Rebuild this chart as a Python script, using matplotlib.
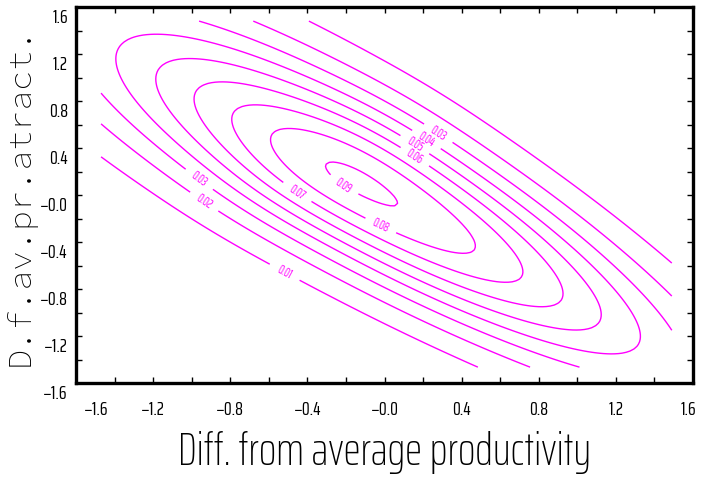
import numpy as np
import matplotlib
matplotlib.use("Agg")
import matplotlib.pyplot as plt
from matplotlib.transforms import ScaledTranslation

# ---- data ----
contour_levels = [0.01, 0.02, 0.03, 0.04, 0.05, 0.06, 0.07, 0.08, 0.09]
# surface: a broad rotated bell shape plus a small bump near its top
main_center = [-0.025, 0.0]
main_amplitude = 0.089
main_sd_major = 1.47
main_sd_minor = 0.39
minor_sd_slope = -0.05          # minor spread changes slightly along the major axis
major_axis_angle_deg = -45.0
bump_offset_major = -0.40       # bump position along the major axis
bump_amplitude = 0.004
bump_sd_major = 0.35
bump_sd_minor = 0.40
grid_x_range = [-1.47, 1.49]
grid_y_range = [-1.465, 1.48]
grid_points = 151

label_levels = [0.01, 0.02, 0.03, 0.03, 0.04, 0.05, 0.06, 0.07, 0.08, 0.09]
label_x = [-0.506, -0.926, -0.952, 0.283, 0.226, 0.163, 0.163, -0.438, -0.018, -0.21]
label_y = [-0.621, -0.034, 0.153, 0.536, 0.494, 0.443, 0.34, 0.06, -0.255, 0.085]

tick_values = [-1.6, -1.2, -0.8, -0.4, 0.0, 0.4, 0.8, 1.2, 1.6]
tick_labels = ["\u22121.6", "\u22121.2", "\u22120.8", "\u22120.4", "\u22120.0", "0.4", "0.8", "1.2", "1.6"]
minor_tick_values = [-1.4, -1.0, -0.6, -0.2, 0.2, 0.6, 1.0, 1.4]

x_label = "Diff. from average productivity"
y_label = "D.f.av.pr.atract."

# ---- build surface ----
gx = np.linspace(grid_x_range[0], grid_x_range[1], grid_points)
gy = np.linspace(grid_y_range[0], grid_y_range[1], grid_points)
X, Y = np.meshgrid(gx, gy)
th = np.deg2rad(major_axis_angle_deg)
dx, dy = X - main_center[0], Y - main_center[1]
U = dx * np.cos(th) + dy * np.sin(th)
V = -dx * np.sin(th) + dy * np.cos(th)
sv = main_sd_minor * (1 + minor_sd_slope * U)
Z = main_amplitude * np.exp(-0.5 * ((U / main_sd_major) ** 2 + (V / sv) ** 2))
Z += bump_amplitude * np.exp(-0.5 * (((U - bump_offset_major) / bump_sd_major) ** 2 + (V / bump_sd_minor) ** 2))

# ---- figure ----
fig = plt.figure(figsize=(7.05, 4.84), dpi=100)
ax = fig.add_axes([76 / 705, 1 - 383 / 484, 617 / 705, 376 / 484])
magenta = "#ff00ff"
narrow = ["Saira ExtraCondensed", "DejaVu Sans"]

ax.set_xlim(-1.6, 1.6)
ax.set_ylim(-1.6, 1.6)

all_labels = []
for lev in contour_levels:
    cs = ax.contour(X, Y, Z, levels=[lev], colors=magenta, linewidths=1.0)
    pos = [(x, y) for l, x, y in zip(label_levels, label_x, label_y) if l == lev]
    if pos:
        txts = ax.clabel(cs, manual=pos, inline=True, inline_spacing=3,
                         fontsize=9, fmt="%.2f", colors=magenta)
        for t in txts:
            t.set_family(narrow)
            all_labels.append(t)

# keep every contour label upright, in screen space
for t in all_labels:
    r = t.get_rotation()
    r = ((r + 90.0) % 180.0) - 90.0
    t.set_transform_rotates_text(False)
    t.set_rotation(r)

ax.set_xticks(tick_values)
ax.set_xticklabels(tick_labels)
ax.set_yticks(tick_values)
ax.set_yticklabels(tick_labels)
ax.set_xticks(minor_tick_values, minor=True)
ax.set_yticks(minor_tick_values, minor=True)
for which in ("major", "minor"):
    ax.tick_params(axis="both", which=which, direction="in", length=4.5, width=1.0,
                   top=True, right=True, colors="black")
ax.tick_params(axis="x", which="major", pad=13)
ax.tick_params(axis="y", which="major", pad=6)
for sp in ax.spines.values():
    sp.set_linewidth(2.4)

for lab in ax.get_xticklabels() + ax.get_yticklabels():
    lab.set_family(narrow)
    lab.set_fontsize(14)

# small label offsets as in the reference
for lab in ax.get_yticklabels():
    lab.set_transform(lab.get_transform() + ScaledTranslation(0, -9 / 100, fig.dpi_scale_trans))
xl = ax.get_xticklabels()
xl[0].set_transform(xl[0].get_transform() + ScaledTranslation(20 / 100, 0, fig.dpi_scale_trans))
xl[-1].set_transform(xl[-1].get_transform() + ScaledTranslation(-5 / 100, 0, fig.dpi_scale_trans))

fig.text(385 / 705, 1 - 453 / 484, x_label, ha="center", va="center", fontsize=33,
         family=["Saira ExtraCondensed", "DejaVu Sans"], fontweight=200)
fig.text(20 / 705, 1 - 196 / 484, y_label, ha="center", va="center", rotation=90, fontsize=24,
         family=["Source Code Pro", "IBM Plex Mono", "JetBrains Mono", "Red Hat Mono",
                 "Azeret Mono", "Inconsolata", "DejaVu Sans Mono"], fontweight=200)

fig.savefig("out.png", dpi=100)
